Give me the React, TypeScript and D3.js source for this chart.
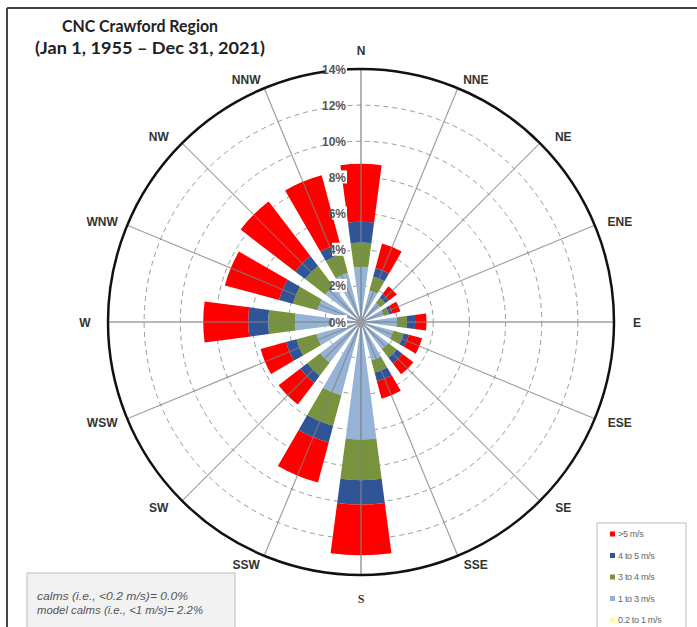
import React from "react";
import * as d3 from "d3";

// Compass sectors, clockwise from north
const directions = ["N", "NNE", "NE", "ENE", "E", "ESE", "SE", "SSE", "S", "SSW", "SW", "WSW", "W", "WNW", "NW", "NNW"];

// Frequency (%) of each wind-speed class per sector
const speed02to1 = [0, 0, 0, 0, 0, 0, 0, 0, 0, 0, 0, 0, 0, 0, 0, 0];
const speed1to3 = [3.05, 1.8, 1.35, 1.3, 2.0, 1.85, 1.9, 2.2, 6.5, 4.2, 2.85, 2.55, 3.65, 2.5, 2.5, 2.8];
const speed3to4 = [1.35, 0.8, 0.35, 0.3, 0.55, 0.6, 0.6, 0.7, 2.25, 1.75, 0.9, 1.15, 1.48, 1.4, 1.4, 1.1];
const speed4to5 = [1.15, 0.5, 0.25, 0.2, 0.45, 0.3, 0.4, 0.5, 1.35, 0.95, 0.5, 0.6, 1.11, 0.8, 0.7, 0.6];
const speedOver5 = [3.2, 1.4, 0.55, 0.45, 0.63, 0.75, 0.75, 1.0, 2.8, 2.3, 1.5, 1.45, 2.49, 3.1, 3.8, 3.9];

const classNames = ["0.2 to 1 m/s", "1 to 3 m/s", "3 to 4 m/s", "4 to 5 m/s", ">5 m/s"];
const classColors = ["#ffff99", "#95b3d7", "#77933c", "#2f5597", "#ff0000"];

const ringTicks = [0, 2, 4, 6, 8, 10, 12, 14];
const ringTickLabels = ["0%", "2%", "4%", "6%", "8%", "10%", "12%", "14%"];

const titleLines = ["CNC Crawford Region", "(Jan 1, 1955 \u2013 Dec 31, 2021)"];
const calmsLines = ["calms (i.e., <0.2 m/s)= 0.0%", "model calms (i.e., <1 m/s)= 2.2%"];

const W = 697;
const H = 627;
const cx = 361;
const cy = 322;
const R = 253;

export default function App() {
  const r = d3.scaleLinear().domain([0, 14]).range([0, R]);
  const step = (2 * Math.PI) / directions.length;
  const half = (15 * Math.PI) / 180 / 2;

  const classes = [speed02to1, speed1to3, speed3to4, speed4to5, speedOver5];
  const arc = d3.arc<any>();

  // Stacked segments per sector
  const segments: { d: string; color: string; key: string }[] = [];
  directions.forEach((dir, i) => {
    let cum = 0;
    classes.forEach((vals, k) => {
      const v = vals[i];
      if (v <= 0) return;
      const inner = cum;
      cum += v;
      const a = i * step;
      const d = arc({
        innerRadius: r(inner),
        outerRadius: r(cum),
        startAngle: a - half,
        endAngle: a + half,
      }) as string;
      segments.push({ d, color: classColors[k], key: `${dir}-${k}` });
    });
  });

  // compass label placement: pushed sideways away from the N-S axis
  const labelPos = (a: number) => {
    const s = Math.sin(a);
    const c = Math.cos(a);
    const x = 276 * s + Math.sign(Math.round(s * 1000)) * 10 * Math.abs(c);
    const polar = Math.abs(c) > 0.99 ? Math.sign(c) * (c > 0 ? 10 : 14) : 0;
    const y = -262 * c - polar;
    return [x, y];
  };

  return (
    <svg
      width={W}
      height={H}
      style={{ position: "absolute", left: 0, top: 0, background: "#fff" }}
      fontFamily="'Liberation Sans', Arial, sans-serif"
    >
      {/* frame */}
      <line x1={7} y1={8} x2={W} y2={8} stroke="#444" strokeWidth={2} />
      <line x1={7} y1={8} x2={7} y2={H} stroke="#444" strokeWidth={2} />

      {/* title */}
      {titleLines.map((t, i) => (
        <text
          key={t}
          x={i === 0 ? 62 : 35}
          y={i === 0 ? 32 : 54}
          textLength={i === 0 ? 156 : 230}
          lengthAdjust="spacingAndGlyphs"
          fontFamily="Lato, 'Open Sans', sans-serif"
          fontWeight="bold"
          fontSize={17}
          fill="#222"
        >
          {t}
        </text>
      ))}

      <g transform={`translate(${cx},${cy})`}>
        {/* dashed rings */}
        {ringTicks
          .filter((t) => t > 0 && t < 14)
          .map((t) => (
            <circle key={t} r={r(t)} fill="none" stroke="#9a9a9a" strokeWidth={1} strokeDasharray="5,4" />
          ))}

        {/* bars */}
        {segments.map((s) => (
          <path key={s.key} d={s.d} fill={s.color} />
        ))}

        {/* direction spokes */}
        {directions.map((dir, i) => {
          const a = i * step;
          return (
            <line
              key={dir}
              x1={0}
              y1={0}
              x2={R * Math.sin(a)}
              y2={-R * Math.cos(a)}
              stroke="#808080"
              strokeOpacity={0.75}
              strokeWidth={i % 4 === 0 ? 1.6 : 1.2}
            />
          );
        })}

        {/* outer ring */}
        <circle r={r(14)} fill="none" stroke="#111" strokeWidth={2.5} />

        {/* centre hub */}
        <circle r={3} fill="#999" />

        {/* percent labels */}
        {ringTicks.map((t, i) => {
          const y = -r(t);
          const label = ringTickLabels[i];
          const w = label.length * 7;
          return (
            <g key={label}>
              <rect x={-15 - w} y={y - 7} width={w + 1} height={13} fill="#fff" />
              <text x={-15} y={y + 4.5} textAnchor="end" fontSize={12} fontWeight="bold" fill="#555">
                {label}
              </text>
            </g>
          );
        })}

        {/* compass labels */}
        {directions.map((dir, i) => {
          const [x, y] = labelPos(i * step);
          return (
            <text
              key={dir}
              x={x}
              y={y + 4.5}
              textAnchor="middle"
              fontSize={12}
              fontWeight="bold"
              fill="#333"
              fontFamily={dir === "S" ? "'Liberation Serif', serif" : undefined}
            >
              {dir}
            </text>
          );
        })}
      </g>

      {/* speed legend */}
      <rect x={597} y={523} width={89} height={120} fill="#fff" stroke="#bdbdbd" strokeWidth={1} />
      {classNames
        .slice()
        .reverse()
        .map((name, i) => {
          const color = classColors[classNames.length - 1 - i];
          const y = 534 + i * 21.5;
          return (
            <g key={name}>
              <rect x={610} y={y - 2.5} width={5} height={5} fill={color} />
              <text x={618} y={y + 3} fontSize={9} fill="#666" letterSpacing={-0.3}>
                {name}
              </text>
            </g>
          );
        })}

      {/* calms note */}
      <rect x={27} y={573} width={208} height={70} fill="#f2f2f2" stroke="#bdbdbd" strokeWidth={1} />
      {calmsLines.map((t, i) => (
        <text
          key={t}
          x={37}
          y={600 + i * 13.5}
          textLength={i === 0 ? 151 : 166}
          lengthAdjust="spacingAndGlyphs"
          fontSize={11.5}
          fontStyle="italic"
          fill="#555"
        >
          {t}
        </text>
      ))}
    </svg>
  );
}
